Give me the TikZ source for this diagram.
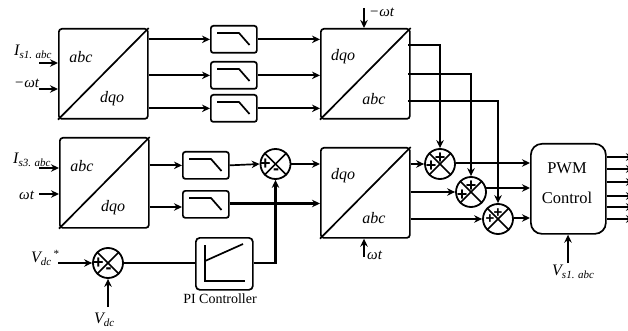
\documentclass[tikz,border=0pt]{standalone}
\usepackage{fontspec}
\setmainfont{Liberation Serif}
\usetikzlibrary{arrows.meta,calc}
\newcommand{\fs}[1]{\fontsize{#1}{#1}\selectfont}
\newcommand{\subt}[1]{\raisebox{-2.5pt}{\fs{11}\itshape #1}}
\tikzset{
  x=1pt,y=-1pt,
  line/.style={line width=1.7pt,black},
  heavy/.style={line width=2.1pt},
  arr/.style={line, -{Stealth[length=8pt,width=7.5pt]}},
  xfbox/.style={draw,line width=1.7pt,rounded corners=3pt,inner sep=0pt,anchor=north west},
  flt/.style={draw,line width=1.7pt,rounded corners=2.5pt,inner sep=0pt,anchor=north west,minimum width=46pt,minimum height=27pt},
  sumc/.style={draw,circle,line width=1.8pt,inner sep=0pt,minimum size=30pt},
  lbl/.style={inner sep=0pt,font=\fs{16}\itshape},
  wlbl/.style={inner sep=0pt,font=\fs{15}\itshape},
  sgn/.style={inner sep=0pt,font=\fontspec{Liberation Sans}\bfseries\fs{18}},
  sgnb/.style={inner sep=0pt,font=\fontspec{Liberation Sans}\bfseries\fs{15}},
  txt/.style={inner sep=0pt,font=\fs{16.5}},
}
\newcommand{\xf}[6]{% name, x, y, h, top-left text, bottom-right text
  \node[xfbox,minimum width=89pt,minimum height=#4pt] (#1) at (#2,#3) {};
  \draw[line] (#1.south west) -- (#1.north east);
  \node[lbl] (#1tl) at ($(#1.north west)+(23,29)$) {#5};
  \node[lbl] (#1br) at ($(#1.north west)+(54,71)$) {#6};
}
\newcommand{\lowpass}[1]{%
  \draw[line] ($(#1.north west)+(7,8)$) -- ++(22,0) -- ++(10.5,12);
}
\newcommand{\sumx}[1]{%
  \draw[line] (#1.45) -- (#1.225);
  \draw[line] (#1.135) -- (#1.315);
}
\begin{document}
\begin{tikzpicture}
\useasboundingbox (0,0) rectangle (628,331);
% transforms
\xf{a}{58}{28}{90}{abc}{dqo}
\xf{b}{320}{28}{90}{dqo}{abc}
\xf{c}{59}{137}{90}{abc}{dqo}
\xf{d}{320}{147}{90}{dqo}{abc}
% filters
\node[flt] (f1) at (210,25) {};
\node[flt] (f2) at (210,61) {};
\node[flt] (f3) at (210,94) {};
\node[flt] (f4) at (182,151) {};
\node[flt] (f5) at (182,190) {};
\lowpass{f1}\lowpass{f2}\lowpass{f3}\lowpass{f4}\lowpass{f5}
% summers
\node[sumc] (s0) at (108,263) {};
\node[sumc] (s1) at (275.5,164) {};
\node[sumc] (s2) at (440,164) {};
\node[sumc] (s3) at (471,192) {};
\node[sumc] (s4) at (498,219) {};
\sumx{s0}\sumx{s1}\sumx{s2}\sumx{s3}\sumx{s4}
\node[sgn] (p0) at ($(s0)+(-9.5,0.5)$) {+};
\node[sgn] (m0) at ($(s0)+(0.5,7.5)$) {-};
\node[sgn] (p1) at ($(s1)+(-10,0.5)$) {+};
\node[sgn] (m1) at ($(s1)+(0.5,7.5)$) {-};
\node[sgn] (p2a) at ($(s2)+(0,-6)$) {+};
\node[sgn] (p2b) at ($(s2)+(-9,2)$) {+};
\node[sgn] (p3a) at ($(s3)+(0,-6)$) {+};
\node[sgn] (p3b) at ($(s3)+(-9,3)$) {+};
\node[sgnb] (p4a) at ($(s4)+(0,-6)$) {+};
\node[sgnb] (p4b) at ($(s4)+(-8,0)$) {+};
% PI
\node[draw,line width=1.7pt,rounded corners=4pt,inner sep=0pt,anchor=north west,minimum width=57pt,minimum height=52pt] (pi) at (195,237) {};
\draw[line] ($(pi.north west)+(10,8)$) -- ++(0,36) -- ++(39.5,0);
\draw[line] ($(pi.north west)+(10,24)$) -- ++(38,-17);
\node[inner sep=0pt,font=\fs{14}] (pilab) at (220,299) {PI Controller};
% PWM
\node[draw,line width=1.7pt,rounded corners=11pt,inner sep=0pt,anchor=north west,minimum width=75pt,minimum height=90pt] (pwm) at (530,143) {};
\node[txt] (pwmt) at (567,168) {PWM};
\node[txt] (pwmb) at (567,198) {Control};
% free ends
\coordinate (ia1) at (39,63);
\coordinate (ia2) at (39,89);
\coordinate (ic1) at (39,168);
\coordinate (ic2) at (39,194);
\coordinate (tb) at (364,8);
\coordinate (td) at (364,257);
\coordinate (tv) at (568,263);
\coordinate (vds) at (58,263);
\coordinate (vd) at (108,307);
% inputs
\draw[arr] (ia1) -- (a.west |- ia1);
\draw[arr] (ia2) -- (a.west |- ia2);
\draw[arr] (ic1) -- (c.west |- ic1);
\draw[arr] (ic2) -- (c.west |- ic2);
\draw[arr] (tb) -- (tb |- b.north);
\draw[arr] (td) -- (td |- d.south);
\draw[arr] (tv) -- (tv |- pwm.south);
\draw[arr] (vds) -- (s0.west);
\draw[arr] (vd) -- (s0.south);
% a -> filters -> b
\draw[arr] (a.east |- f1.west) -- (f1.west);
\draw[arr,heavy] (a.east |- f2.west) -- (f2.west);
\draw[arr] (a.east |- f3.west) -- (f3.west);
\draw[arr] (f1.east) -- (b.west |- f1.east);
\draw[arr,heavy] (f2.east) -- (b.west |- f2.east);
\draw[arr] (f3.east) -- (b.west |- f3.east);
% c -> filters
\draw[arr,heavy] (c.east |- f4.west) -- (f4.west);
\coordinate (c5) at (182,207);
\draw[arr,heavy] (c.east |- c5) -- (c5);
\draw[arr] (f4.east) -- (s1.west);
\coordinate (d5) at (320,203.5);
\draw[arr,heavy] (f5.east |- d5) -- (d5);
\draw[arr] (s1.east) -- (d.west |- s1.east);
% Vdc loop
\draw[line,heavy] (s0.east) -- (pi.west |- s0.east);
\draw[arr,heavy] (pi.east |- s0.east) -- (s1 |- s0.east) -- (s1.south);
% b -> summers
\coordinate (b1) at (408,45);
\coordinate (b2) at (408,74);
\coordinate (b3) at (408,101);
\draw[arr] (b1) -- (s2 |- b1) -- (s2.north);
\draw[arr,heavy] (b2) -- (s3 |- b2) -- (s3.north);
\draw[arr] (b3) -- (s4 |- b3) -- (s4.north);
% d -> summers
\draw[arr] (d.east |- s2.west) -- (s2.west);
\draw[arr] (d.east |- s3.west) -- (s3.west);
\draw[arr,heavy] (d.east |- s4.west) -- (s4.west);
% summers -> PWM
\coordinate (q1) at (530,163);
\coordinate (q2) at (530,188);
\coordinate (q3) at (530,218);
\draw[arr] (s2.east |- q1) -- (q1);
\draw[arr,heavy] (s3.center |- q2) ++(14,0) -- (q2);
\draw[arr] (s4.east |- q3) -- (q3);
% outputs
\foreach \n/\yy in {1/157,2/169,3/182,4/196,5/207,6/219}{
  \coordinate (o\n) at (634,\yy);
  \draw[arr] (pwm.east |- o\n) -- (o\n);
}
% labels
\node[lbl,anchor=west] (l1) at (14,52) {I\subt{s1. abc}};
\node[wlbl,anchor=west] (l2) at (14,83) {−ωt};
\node[lbl,anchor=west] (l3) at (13,160) {I\subt{s3. abc}};
\node[wlbl,anchor=west] (l4) at (19,195) {ωt};
\node[wlbl,anchor=west] (l5) at (369,12) {−ωt};
\node[wlbl,anchor=west] (l6) at (367,255) {ωt};
\node[lbl,anchor=west] (l7) at (552,272) {V\subt{s1. abc}};
\node[lbl,anchor=west] (l8) at (31,258) {V\subt{dc}\raisebox{5pt}{\fs{11}\,*}};
\node[lbl,anchor=west] (l9) at (94,320) {V\subt{dc}};
\end{tikzpicture}
\end{document}
